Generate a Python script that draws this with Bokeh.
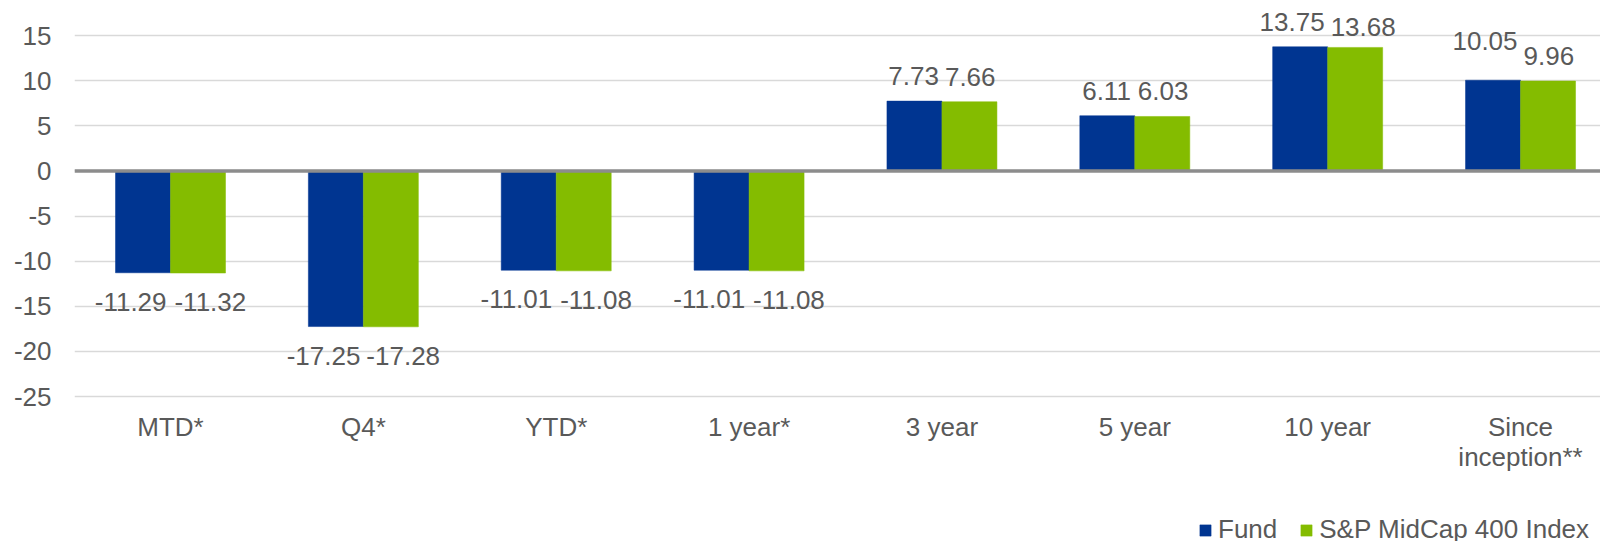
from bokeh.plotting import figure
from bokeh.models import (ColumnDataSource, Range1d, FixedTicker, LinearAxis,
                          Span, Legend, LegendItem)
from bokeh.embed import file_html
from bokeh.resources import INLINE
from bokeh.core.properties import value

# ---------------- data ----------------
categories = ["MTD*", "Q4*", "YTD*", "1 year*", "3 year", "5 year", "10 year",
              "Since\ninception**"]
fund = [-11.29, -17.25, -11.01, -11.01, 7.73, 6.11, 13.75, 10.05]
index_vals = [-11.32, -17.28, -11.08, -11.08, 7.66, 6.03, 13.68, 9.96]
series_names = ["Fund", "S&P MidCap 400 Index"]
y_ticks = [-25, -20, -15, -10, -5, 0, 5, 10, 15]

# ---------------- style ----------------
FONT = "Liberation Sans"
FS = 26
TXT = "#595959"
BLUE = "#003591"
GREEN = "#84BC00"
W, H = 1600, 541
FRAME_LEFT = 74
CAT_PX = 192.86
BAR_PX = 55.0
PX_PER_UNIT = 9.025
TOP_GRID_PX = 35

bar_w = BAR_PX / CAT_PX
half = bar_w / 2
x_start = -(170 - FRAME_LEFT) / CAT_PX
x_end = x_start + (W - FRAME_LEFT) / CAT_PX
y_end = y_ticks[-1] + TOP_GRID_PX / PX_PER_UNIT
y_start = y_end - H / PX_PER_UNIT

p = figure(width=W, height=H, x_range=Range1d(x_start, x_end),
           y_range=Range1d(y_start, y_end), output_backend="svg",
           toolbar_location=None, x_axis_location=None,
           min_border_left=FRAME_LEFT, min_border_right=0,
           min_border_top=0, min_border_bottom=0)
p.outline_line_color = None
p.background_fill_color = "white"
p.border_fill_color = "white"

# y axis
yt = FixedTicker(ticks=y_ticks)
p.yaxis.ticker = yt
p.yaxis.major_label_overrides = {t: str(t) for t in y_ticks}
p.yaxis.axis_line_color = None
p.yaxis.major_tick_line_color = None
p.yaxis.minor_tick_line_color = None
p.yaxis.major_tick_out = 0
p.yaxis.major_label_standoff = 23
p.yaxis.major_label_text_font = FONT
p.yaxis.major_label_text_font_size = f"{FS}px"
p.yaxis.major_label_text_color = TXT
p.ygrid.ticker = yt
p.ygrid.grid_line_color = "#d9d9d9"
p.ygrid.grid_line_width = 1.5
p.xgrid.visible = False

# x axis (category labels) placed at the bottom grid line
xaxis = LinearAxis(fixed_location=y_ticks[0],
                   ticker=FixedTicker(ticks=list(range(len(categories)))),
                   major_label_overrides={i: c for i, c in enumerate(categories)})
xaxis.axis_line_color = None
xaxis.major_tick_line_color = None
xaxis.minor_tick_line_color = None
xaxis.major_tick_out = 0
xaxis.major_label_standoff = 15
xaxis.major_label_text_font = FONT
xaxis.major_label_text_font_size = f"{FS}px"
xaxis.major_label_text_color = TXT
xaxis.major_label_text_line_height = 1.0
p.add_layout(xaxis, "below")

# bars
xs = list(range(len(categories)))
src_f = ColumnDataSource(dict(x=[i - half for i in xs], top=fund))
src_i = ColumnDataSource(dict(x=[i + half for i in xs], top=index_vals))
r_f = p.vbar(x="x", top="top", bottom=0, width=bar_w, source=src_f,
             fill_color=BLUE, line_color=BLUE, line_width=0.5)
r_i = p.vbar(x="x", top="top", bottom=0, width=bar_w, source=src_i,
             fill_color=GREEN, line_color=GREEN, line_width=0.5)

# zero line
p.add_layout(Span(location=0, dimension="width", line_color="#8c8c8c",
                  line_width=3.5))

# data labels
CW = {"-": 0.333, ".": 0.278}


def text_w(s):
    return sum(CW.get(ch, 0.556) for ch in s) * FS


nudge = {(0, 7): -14, (1, 6): 5}


def labels(vals, sign, k):
    txt = [f"{v:.2f}" for v in vals]
    xo, yo = [], []
    for i, (v, t) in enumerate(zip(vals, txt)):
        shift = max(0.0, (text_w(t) - BAR_PX) / 2 + 3)
        xo.append(sign * shift)
        base = -25 if v >= 0 else 29
        yo.append(base + nudge.get((k, i), 0))
    return dict(x=[i + sign * half for i in xs], y=vals, t=txt, xo=xo, yo=yo)


for k, (vals, sign) in enumerate([(fund, -1), (index_vals, 1)]):
    s = ColumnDataSource(labels(vals, sign, k))
    p.text(x="x", y="y", text="t", x_offset="xo", y_offset="yo", source=s,
           text_font=value(FONT), text_font_size=f"{FS}px", text_color=TXT,
           text_align="center", text_baseline="alphabetic")

# legend
legend = Legend(items=[LegendItem(label=series_names[0], renderers=[r_f]),
                       LegendItem(label=series_names[1], renderers=[r_i])],
                location=(1124, -4), orientation="horizontal")
legend.border_line_color = None
legend.background_fill_alpha = 0
legend.padding = 0
legend.margin = 0
legend.spacing = 22
legend.label_standoff = 6
legend.glyph_width = 14
legend.glyph_height = 14
legend.label_text_font = FONT
legend.label_text_font_size = f"{FS}px"
legend.label_text_color = TXT
p.add_layout(legend)

open("out.html", "w").write(file_html(p, INLINE))
